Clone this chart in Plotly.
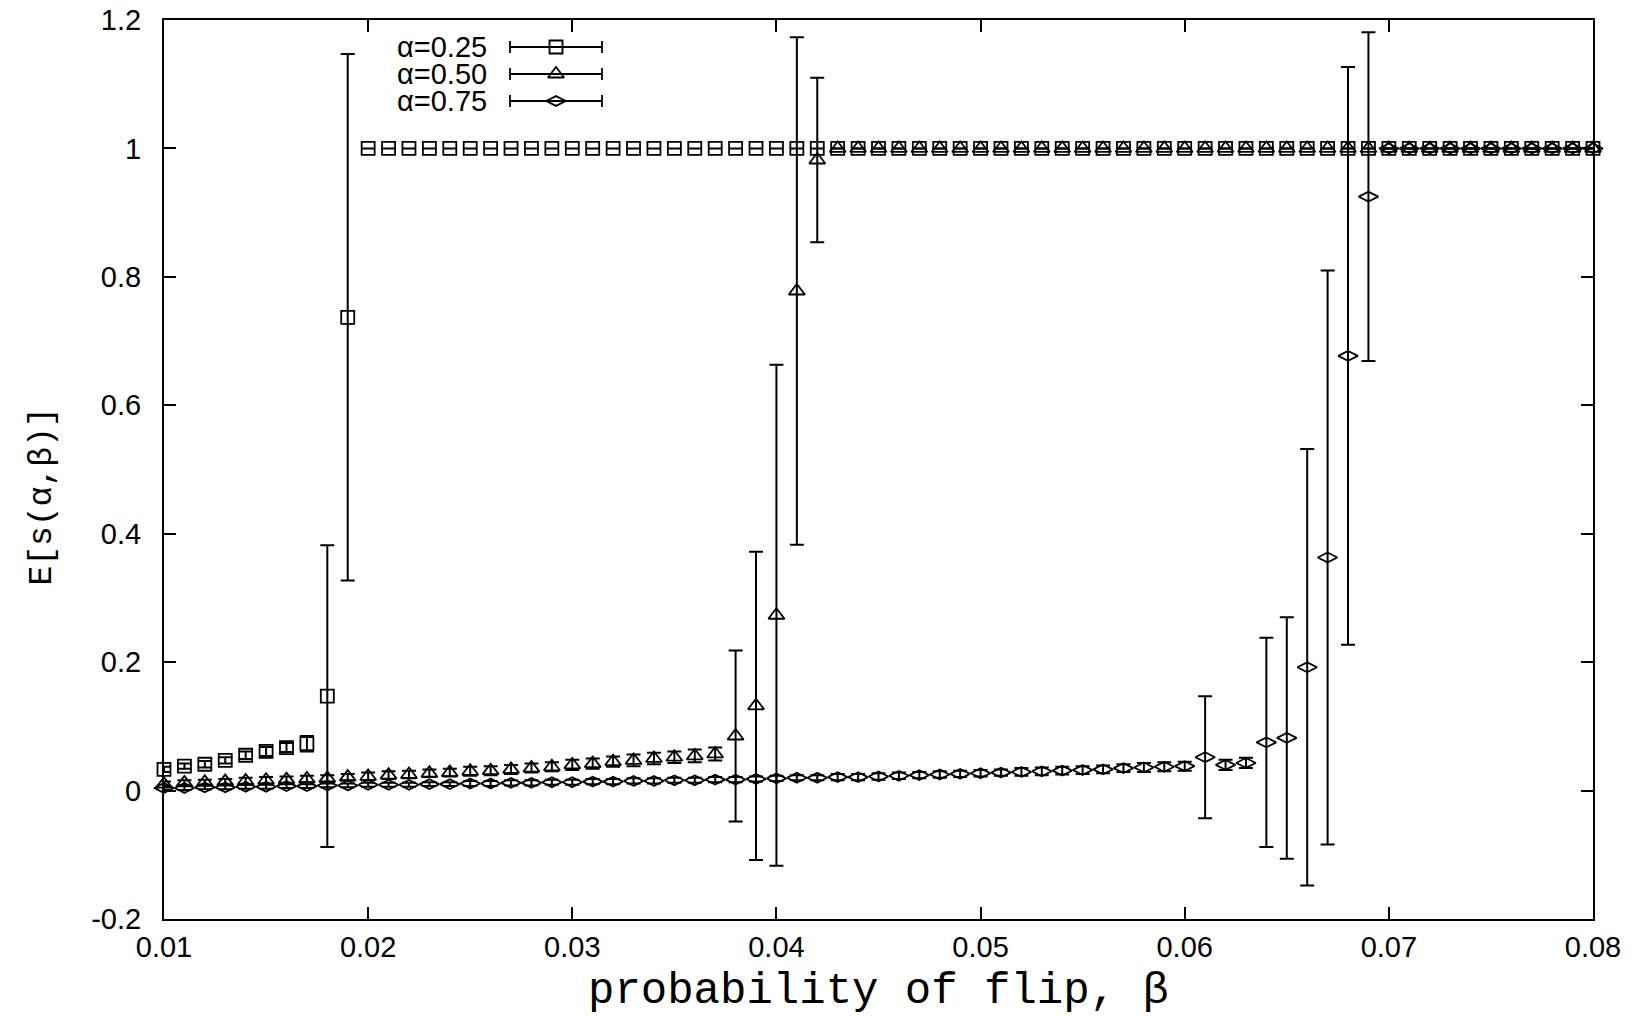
import plotly.graph_objects as go

# ---------------- data ----------------
beta = [i / 1000 for i in range(10, 81)]  # 0.010 ... 0.080

s025 = [0.033, 0.038, 0.041, 0.047, 0.055, 0.061, 0.067, 0.073, 0.147, 0.737,
        1.0, 1.0, 1.0, 1.0, 1.0, 1.0, 1.0, 1.0, 1.0, 1.0,
        1.0, 1.0, 1.0, 1.0, 1.0, 1.0, 1.0, 1.0, 1.0, 1.0,
        1.0, 1.0, 1.0, 1.0, 1.0, 1.0, 1.0, 1.0, 1.0, 1.0,
        1.0, 1.0, 1.0, 1.0, 1.0, 1.0, 1.0, 1.0, 1.0, 1.0,
        1.0, 1.0, 1.0, 1.0, 1.0, 1.0, 1.0, 1.0, 1.0, 1.0,
        1.0, 1.0, 1.0, 1.0, 1.0, 1.0, 1.0, 1.0, 1.0, 1.0,
        1.0]
e025 = [0.004, 0.004, 0.005, 0.005, 0.006, 0.007, 0.007, 0.012, 0.235, 0.41,
        0, 0, 0, 0, 0, 0, 0, 0, 0, 0,
        0, 0, 0, 0, 0, 0, 0, 0, 0, 0,
        0, 0, 0, 0, 0, 0, 0, 0, 0, 0,
        0, 0, 0, 0, 0, 0, 0, 0, 0, 0,
        0, 0, 0, 0, 0, 0, 0, 0, 0, 0,
        0, 0, 0, 0, 0, 0, 0, 0, 0, 0,
        0]

s050 = [0.010, 0.012, 0.013, 0.014, 0.015, 0.016, 0.017, 0.018, 0.019, 0.021,
        0.022, 0.024, 0.025, 0.027, 0.028, 0.030, 0.031, 0.033, 0.035, 0.037,
        0.040, 0.042, 0.045, 0.047, 0.050, 0.052, 0.054, 0.057, 0.085, 0.132,
        0.273, 0.778, 0.982, 1.0, 1.0, 1.0, 1.0, 1.0, 1.0, 1.0,
        1.0, 1.0, 1.0, 1.0, 1.0, 1.0, 1.0, 1.0, 1.0, 1.0,
        1.0, 1.0, 1.0, 1.0, 1.0, 1.0, 1.0, 1.0, 1.0, 1.0,
        1.0, 1.0, 1.0, 1.0, 1.0, 1.0, 1.0, 1.0, 1.0, 1.0,
        1.0]
e050 = [0.004, 0.004, 0.004, 0.004, 0.005, 0.005, 0.005, 0.005, 0.005, 0.005,
        0.006, 0.006, 0.006, 0.006, 0.006, 0.007, 0.007, 0.007, 0.007, 0.007,
        0.008, 0.008, 0.008, 0.009, 0.009, 0.009, 0.010, 0.010, 0.133, 0.24,
        0.39, 0.395, 0.128, 0, 0, 0, 0, 0, 0, 0,
        0, 0, 0, 0, 0, 0, 0, 0, 0, 0,
        0, 0, 0, 0, 0, 0, 0, 0, 0, 0,
        0, 0, 0, 0, 0, 0, 0, 0, 0, 0,
        0]

s075 = [0.004, 0.004, 0.005, 0.005, 0.006, 0.006, 0.007, 0.007, 0.008, 0.008,
        0.009, 0.009, 0.009, 0.010, 0.010, 0.011, 0.011, 0.012, 0.012, 0.013,
        0.013, 0.014, 0.014, 0.015, 0.015, 0.016, 0.016, 0.017, 0.017, 0.018,
        0.019, 0.020, 0.020, 0.021, 0.021, 0.022, 0.023, 0.024, 0.025, 0.026,
        0.027, 0.028, 0.029, 0.030, 0.031, 0.032, 0.033, 0.035, 0.036, 0.037,
        0.038, 0.052, 0.040, 0.043, 0.075, 0.082, 0.192, 0.363, 0.677, 0.925,
        1.0, 1.0, 1.0, 1.0, 1.0, 1.0, 1.0, 1.0, 1.0, 1.0,
        1.0]
e075 = [0.003, 0.003, 0.003, 0.003, 0.003, 0.003, 0.003, 0.003, 0.003, 0.003,
        0.003, 0.003, 0.003, 0.003, 0.003, 0.004, 0.004, 0.004, 0.004, 0.004,
        0.004, 0.004, 0.004, 0.004, 0.004, 0.004, 0.004, 0.004, 0.004, 0.004,
        0.004, 0.004, 0.004, 0.005, 0.005, 0.005, 0.005, 0.005, 0.005, 0.005,
        0.005, 0.005, 0.006, 0.006, 0.006, 0.006, 0.006, 0.006, 0.007, 0.007,
        0.007, 0.095, 0.008, 0.008, 0.163, 0.188, 0.34, 0.447, 0.45, 0.256,
        0, 0, 0, 0, 0, 0, 0, 0, 0, 0,
        0]

series_names = ["α=0.25", "α=0.50", "α=0.75"]
series_symbols = ["square-open", "triangle-up-open", "diamond-wide-open"]

x_ticks = [0.01, 0.02, 0.03, 0.04, 0.05, 0.06, 0.07, 0.08]
x_ticktext = ["0.01", "0.02", "0.03", "0.04", "0.05", "0.06", "0.07", "0.08"]
y_ticks = [-0.2, 0, 0.2, 0.4, 0.6, 0.8, 1, 1.2]
y_ticktext = ["-0.2", "0", "0.2", "0.4", "0.6", "0.8", "1", "1.2"]

# ---------------- figure geometry (page pixels; body has an 8px margin) ----------------
BODY = 8
PX0, PX1 = 164, 1593   # plot area left/right in the page
PY0, PY1 = 20, 919     # plot area top/bottom in the page
W, H = 1637 - BODY, 1016 - BODY
ML = PX0 - BODY
MR = W - (PX1 - BODY)
MT = PY0 - BODY
MB = H - (PY1 - BODY)

fig = go.Figure()

data_sets = [(s025, e025), (s050, e050), (s075, e075)]
sizes = [13, 14, 14]
for (vals, errs), name, sym, sz in zip(data_sets, series_names, series_symbols, sizes):
    fig.add_trace(go.Scatter(
        x=beta, y=vals, mode="markers", name=name,
        marker=dict(symbol=sym, size=sz, color="black", line=dict(width=1.8, color="black")),
        error_y=dict(type="data", array=errs, visible=True, color="black",
                     thickness=2, width=7),
        cliponaxis=False, showlegend=False,
    ))

# legend samples (gnuplot style: text, then error-bar sample with marker) on an overlay pixel axis
leg_rows = [47, 74, 101]
leg_center = 556
leg_half = 46
for name, sym, sz, yrow in zip(series_names, series_symbols, sizes, leg_rows):
    fig.add_trace(go.Scatter(
        x=[leg_center], y=[yrow], xaxis="x2", yaxis="y2", mode="markers",
        marker=dict(symbol=sym, size=sz, color="black", line=dict(width=1.8, color="black")),
        error_x=dict(type="data", array=[leg_half], visible=True, color="black",
                     thickness=1.8, width=6),
        showlegend=False, hoverinfo="skip", cliponaxis=False,
    ))
    fig.add_annotation(x=489, y=yrow, xref="x2", yref="y2", text=name,
                       showarrow=False, xanchor="right", yanchor="middle",
                       font=dict(family="Liberation Sans, Arial, sans-serif", size=29, color="black"))

axis_common = dict(
    showline=True, linecolor="black", linewidth=2, mirror="ticks",
    ticks="inside", ticklen=12, tickwidth=1.5, tickcolor="black",
    showgrid=False, zeroline=False, ticklabeloverflow="allow", automargin=False,
    tickfont=dict(family="Liberation Sans, Arial, sans-serif", size=29, color="black"),
)

fig.update_layout(
    width=W, height=H,
    margin=dict(l=ML, r=MR, t=MT, b=MB, pad=0, autoexpand=False),
    plot_bgcolor="white", paper_bgcolor="white",
    xaxis=dict(range=[0.01, 0.08], tickvals=x_ticks, ticktext=x_ticktext,
               ticklabelstandoff=1, **axis_common),
    yaxis=dict(range=[-0.2, 1.2], tickvals=y_ticks, ticktext=y_ticktext,
               ticklabelstandoff=15, **axis_common),
    xaxis2=dict(range=[PX0, PX1], overlaying="x", anchor="y2", visible=False,
                fixedrange=True, automargin=False),
    yaxis2=dict(range=[PY1, PY0], overlaying="y", anchor="x2", visible=False,
                fixedrange=True, automargin=False),
    showlegend=False,
)

fig.add_annotation(x=0.5, y=0, xref="paper", yref="paper", yshift=-72,
                   text="probability of flip, β", showarrow=False,
                   xanchor="center", yanchor="middle",
                   font=dict(family="Liberation Mono, Courier New, monospace", size=44, color="black"))
fig.add_annotation(x=0, y=0.5, xref="paper", yref="paper", xshift=-122, yshift=-27,
                   text="E[s(α,β)]", showarrow=False, textangle=-90,
                   xanchor="center", yanchor="middle",
                   font=dict(family="Liberation Mono, Courier New, monospace", size=33, color="black"))

fig.write_html("out.html")
